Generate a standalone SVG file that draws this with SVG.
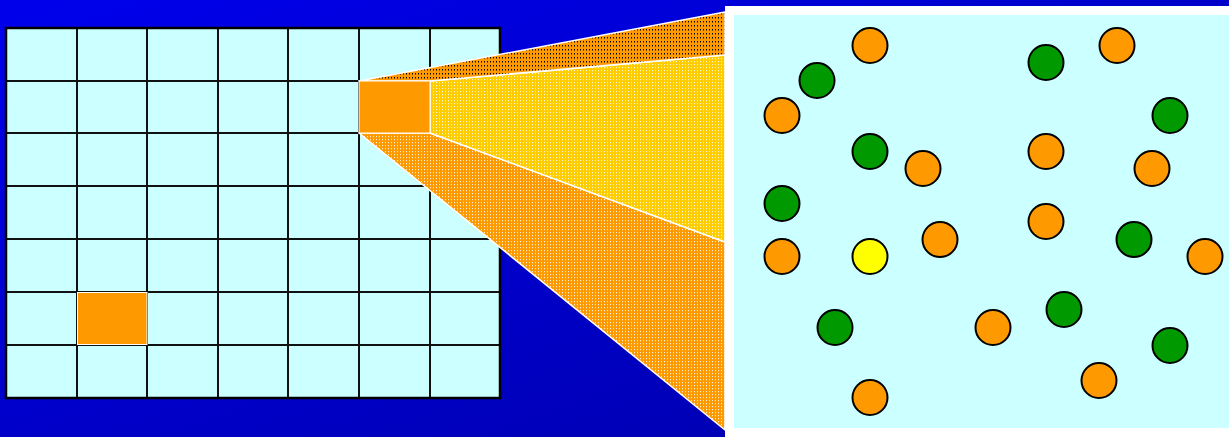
<svg xmlns="http://www.w3.org/2000/svg" width="1229" height="437" viewBox="0 0 1229 437">
<defs>
<linearGradient id="bg" x1="0" y1="0" x2="1" y2="1">
<stop offset="0" stop-color="#0000EC"/>
<stop offset="1" stop-color="#0000A8"/>
</linearGradient>
<pattern id="pDark" width="3" height="4" patternUnits="userSpaceOnUse">
<rect width="3" height="4" fill="#FF9900"/>
<rect x="1" y="1" width="1" height="1.5" fill="#000"/>
</pattern>
<pattern id="pYellow" width="3" height="3" patternUnits="userSpaceOnUse">
<rect width="3" height="3" fill="#FFCC00"/>
<rect x="1" y="1" width="1" height="1.2" fill="#FFF" opacity="0.85"/>
</pattern>
<pattern id="pOrange" width="3" height="3" patternUnits="userSpaceOnUse">
<rect width="3" height="3" fill="#FF9900"/>
<rect x="1" y="1" width="1" height="1.2" fill="#FFF" opacity="0.85"/>
</pattern>
<style>
.cell{fill:#CCFFFF;}
.gl{stroke:#111;stroke-width:2;fill:none;}
.frame{stroke:#000;stroke-width:2.5;fill:none;}
.hl{fill:#FF9900;stroke:#fff;stroke-width:1;}
.wedge{stroke:#fff;stroke-width:1.5;stroke-linejoin:round;}
.o{fill:#FF9900;stroke:#000;stroke-width:2;}
.g{fill:#009900;stroke:#000;stroke-width:2;}
.y{fill:#FFFF00;stroke:#000;stroke-width:2;}
</style>
</defs>
<rect width="1229" height="437" fill="url(#bg)"/>

<g id="grid">
<rect class="cell" x="6" y="28" width="494" height="370"/>
<path class="gl" d="M77,28V398M147,28V398M218,28V398M288,28V398M359,28V398M430,28V398M6,81H500M6,133H500M6,186H500M6,239H500M6,292H500M6,345H500"/>
<rect class="frame" x="6" y="28" width="494" height="370"/>
<rect class="hl" x="77.5" y="292.5" width="69.5" height="52"/>
</g>

<g id="zoom-wedges">
<polygon class="wedge" fill="url(#pOrange)" points="359,133 430,133 725,242 725,430"/>
<polygon class="wedge" fill="url(#pYellow)" points="430,81 725,55 725,242 430,133"/>
<polygon class="wedge" fill="url(#pDark)" points="359,81 725,12 725,55 430,81"/>
<rect class="hl" x="359" y="81" width="71" height="52"/>
</g>

<g id="panel">
<rect x="725" y="6" width="510" height="431" fill="#FFFFFF"/>
<rect x="734" y="15" width="500" height="413" fill="#CCFFFF"/>
</g>

<g id="particles">
<circle class="o" cx="870" cy="45.5" r="17.5"/>
<circle class="o" cx="1117" cy="45.5" r="17.5"/>
<circle class="o" cx="782" cy="115.5" r="17.5"/>
<circle class="o" cx="923" cy="168.5" r="17.5"/>
<circle class="o" cx="1046" cy="151.5" r="17.5"/>
<circle class="o" cx="1152" cy="168.5" r="17.5"/>
<circle class="o" cx="1046" cy="221.5" r="17.5"/>
<circle class="o" cx="940" cy="239.5" r="17.5"/>
<circle class="o" cx="782" cy="256.5" r="17.5"/>
<circle class="o" cx="1205" cy="256.5" r="17.5"/>
<circle class="o" cx="993" cy="327.5" r="17.5"/>
<circle class="o" cx="1099" cy="380.5" r="17.5"/>
<circle class="o" cx="870" cy="397.5" r="17.5"/>
<circle class="g" cx="817" cy="80.5" r="17.5"/>
<circle class="g" cx="1046" cy="62.5" r="17.5"/>
<circle class="g" cx="1170" cy="115.5" r="17.5"/>
<circle class="g" cx="870" cy="151.5" r="17.5"/>
<circle class="g" cx="782" cy="203.5" r="17.5"/>
<circle class="g" cx="1134" cy="239.5" r="17.5"/>
<circle class="g" cx="1064" cy="309.5" r="17.5"/>
<circle class="g" cx="835" cy="327.5" r="17.5"/>
<circle class="g" cx="1170" cy="345.5" r="17.5"/>
<circle class="y" cx="870" cy="256.5" r="17.5"/>
</g>
</svg>
